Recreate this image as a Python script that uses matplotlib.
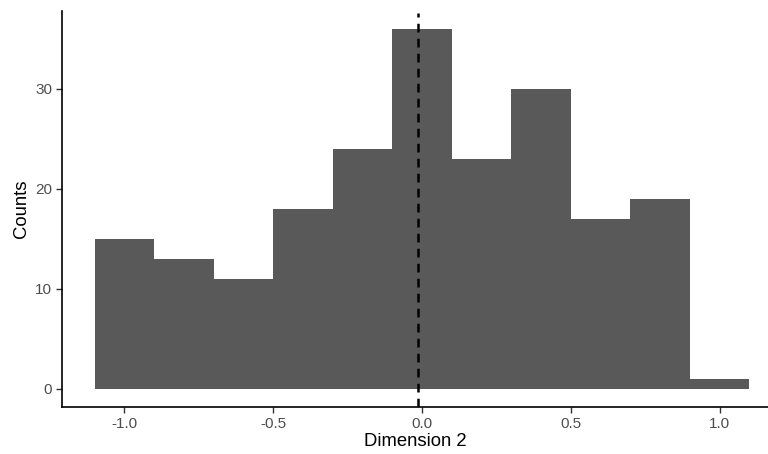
import matplotlib.pyplot as plt
import numpy as np

bin_edges = [-1.1, -0.9, -0.7, -0.5, -0.3, -0.1, 0.1, 0.3, 0.5, 0.7, 0.9, 1.1]
counts = [15, 13, 11, 18, 24, 36, 23, 30, 17, 19, 1]
mean_line = -0.013
x_ticks = [-1.0, -0.5, 0.0, 0.5, 1.0]
y_ticks = [0, 10, 20, 30]

plt.rcParams["font.family"] = ["Liberation Sans", "DejaVu Sans"]

fig = plt.figure(figsize=(7.68, 4.54), dpi=100)
ax = fig.add_axes([62 / 768, 47 / 454, 706 / 768, 396 / 454])

edges = np.array(bin_edges)
ax.bar(edges[:-1], counts, width=np.diff(edges), align="edge",
       color="#595959", edgecolor="none", linewidth=0)
ax.axvline(mean_line, ymax=0.995, color="black", linestyle=(0, (3.5, 2.5)),
           linewidth=1.8)

ax.set_xlim(-1.21, 1.163)
ax.set_ylim(-1.8, 37.8)
ax.set_xticks(x_ticks)
ax.set_xticklabels([f"{v:.1f}" for v in x_ticks])
ax.set_yticks(y_ticks)

for side in ["top", "right"]:
    ax.spines[side].set_visible(False)
for side in ["left", "bottom"]:
    ax.spines[side].set_linewidth(1.2)
    ax.spines[side].set_color("black")

ax.tick_params(axis="both", length=4, width=1.0, color="#333333",
               labelsize=11, labelcolor="#4D4D4D", pad=3)
ax.set_xlabel("Dimension 2", fontsize=13.3, color="black", labelpad=2)
ax.set_ylabel("Counts", fontsize=13.3, color="black", labelpad=4)

fig.savefig("out.png", dpi=100)
